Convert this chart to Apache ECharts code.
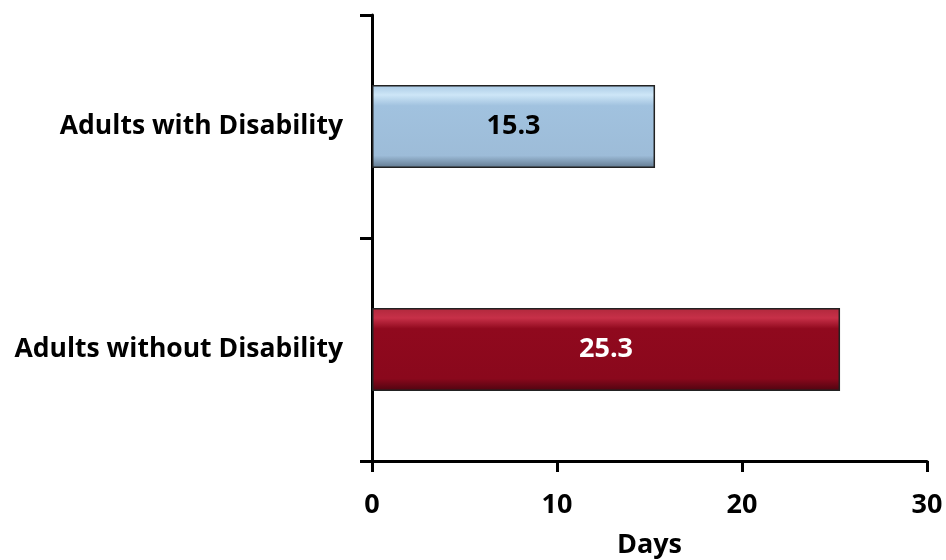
<!DOCTYPE html>
<html><head><meta charset="utf-8">
<script src="https://cdn.jsdelivr.net/npm/echarts@6/dist/echarts.min.js"></script>
<style>html,body{margin:0;padding:0;background:#fff}#c{width:946px;height:560px}</style>
</head><body><div id="c"></div>
<script>
const categories = ['Adults without Disability', 'Adults with Disability'];
const values = [25.3, 15.3];
const xTicks = [0, 10, 20, 30];

const FONT = 'Open Sans';
const barColors = [
  {type:'linear',x:0,y:0,x2:0,y2:1,colorStops:[{offset:0,color:'#b0283c'},{offset:0.12,color:'#c73048'},{offset:0.25,color:'#90091e'},{offset:0.85,color:'#8a081c'},{offset:1,color:'#4e0410'}]},
  {type:'linear',x:0,y:0,x2:0,y2:1,colorStops:[{offset:0,color:'#a9c9e4'},{offset:0.12,color:'#cde6f7'},{offset:0.25,color:'#a1c2df'},{offset:0.85,color:'#9dbcd8'},{offset:1,color:'#61788e'}]}
];
const labelColors = ['#ffffff', '#000000'];

const chart = echarts.init(document.getElementById('c'));
chart.setOption({
  animation: false,
  grid: {left: 372, right: 19, top: 15, bottom: 99, containLabel: false, outerBoundsMode: 'none'},
  xAxis: {
    type: 'value', min: xTicks[0], max: xTicks[xTicks.length-1], interval: 10,
    name: 'Days', nameLocation: 'middle', nameGap: 71,
    nameTextStyle: {fontFamily: FONT, fontWeight: 'bold', fontSize: 27, color: '#000'},
    axisLine: {show: true, lineStyle: {color: '#000', width: 3}},
    axisTick: {show: true, length: 11, lineStyle: {color: '#000', width: 3}},
    axisLabel: {fontFamily: FONT, fontWeight: 'bold', fontSize: 27, color: '#000', margin: 31},
    splitLine: {show: false}
  },
  yAxis: {
    type: 'category', data: categories,
    axisLine: {show: true, lineStyle: {color: '#000', width: 3}},
    axisTick: {show: true, length: 12, lineStyle: {color: '#000', width: 3}},
    axisLabel: {fontFamily: FONT, fontWeight: 'bold', fontSize: 26.5, color: '#000', margin: 29}
  },
  series: [{
    type: 'bar', barWidth: 83,
    data: values.map((v, i) => ({
      value: v,
      itemStyle: {color: barColors[i], borderColor: '#222', borderWidth: 1.5},
      label: {color: labelColors[i]}
    })),
    label: {show: true, position: 'inside', fontFamily: FONT, fontWeight: 'bold', fontSize: 27}
  }]
});
</script></body></html>
